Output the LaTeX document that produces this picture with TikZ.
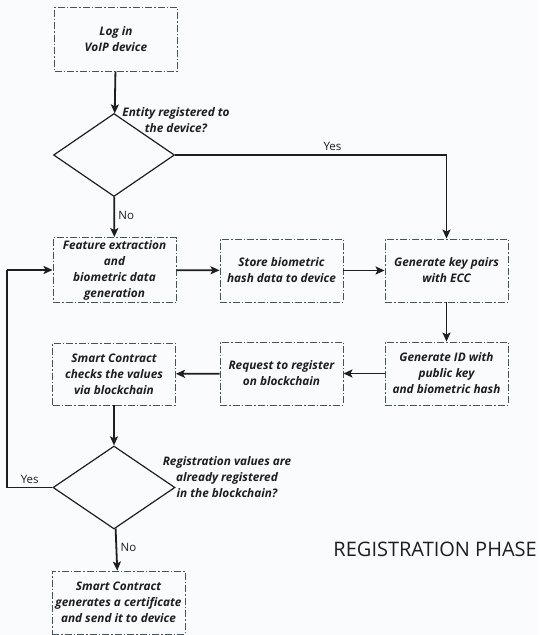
\documentclass[tikz,border=0pt]{standalone}
\usepackage{fontspec}
\setmainfont{Open Sans}
\newfontfamily\labelfont{Open Sans}
\usetikzlibrary{arrows.meta,shapes.geometric,calc}
\definecolor{boxline}{RGB}{70,84,90}
\definecolor{ink}{RGB}{30,30,32}
\definecolor{bg}{RGB}{250,251,253}
\begin{document}
\begin{tikzpicture}[x=1pt,y=-1pt,
  stepbox/.style={draw=boxline,line width=0.9pt,dash pattern=on 7pt off 2pt on 1.5pt off 2pt,
    minimum width=123pt,minimum height=63pt,inner sep=0pt,align=center,
    font=\fontsize{11.8}{16}\selectfont\bfseries\itshape,text=ink},
  decision/.style={draw=ink,line width=1.2pt,diamond,minimum width=121pt,minimum height=83pt,inner sep=0pt},
  conn/.style={draw=ink,line width=1.8pt,-{Stealth[length=9pt,width=8pt,inset=2pt]}},
  plainconn/.style={draw=ink,line width=1.8pt},
  qlabel/.style={align=center,font=\fontsize{11.8}{16}\selectfont\bfseries\itshape,text=ink},
  ynlabel/.style={font=\labelfont\fontsize{11.5}{13}\selectfont,text=ink}]
\fill[bg] (0,0) rectangle (539,635);
\useasboundingbox (0,0) rectangle (539,635);

\node[stepbox,minimum height=64pt] (login) at (116,39) {Log in\\VoIP device};
\node[decision] (d1) at (114,155) {};
\node[qlabel] (q1) at (176,120) {Entity registered to\\the device?};

\node[stepbox,minimum height=65pt] (feat) at (114.5,270) {Feature extraction\\and\\biometric data\\generation};
\node[stepbox] (store) at (281.5,270.5) {Store biometric\\hash data to device};
\node[stepbox] (keys) at (446.5,270.5) {Generate key pairs\\with ECC};
\node[stepbox] (genid) at (446.5,373.5) {Generate ID with\\public key\\and biometric hash};
\node[stepbox] (req) at (281.5,373.5) {Request to register\\on blockchain};
\node[stepbox,minimum height=62pt] (check) at (114,374) {Smart Contract\\checks the values\\via blockchain};

\node[decision,minimum width=122pt,minimum height=83pt] (d2) at (114,487.5) {};
\node[qlabel] (q2) at (227,477) {Registration values are\\already registered\\in the blockchain?};

\node[stepbox,minimum width=133pt] (final) at (118.5,602.5) {Smart Contract\\generates a certificate\\and send it to device};

\node[font=\labelfont\fontsize{20}{23}\selectfont,text=ink,anchor=east,inner sep=0pt] (title) at (537,549) {REGISTRATION PHASE};

\coordinate (yes1) at (446.5,155);
\coordinate (yes2a) at (7,487.5);
\coordinate (yes2b) at (7,270);

\draw[conn] (login) -- (d1);
\draw[conn] (d1) -- node[ynlabel,right,pos=0.45] (no1) {No} (feat);
\draw[plainconn] (d1.east) -- node[ynlabel,above,pos=0.58] (yes1lab) {Yes} (yes1);
\draw[conn] (yes1) -- (keys.north);
\draw[conn] (feat) -- (store);
\draw[conn] (store) -- (keys);
\draw[conn] (keys) -- (genid);
\draw[conn] (genid) -- (req);
\draw[conn] (req) -- (check);
\draw[conn] (check) -- (d2);
\draw[conn] (d2) -- node[ynlabel,right,pos=0.45] (no2) {No} (final);
\draw[plainconn] (d2.west) -- node[ynlabel,above,pos=0.5] (yes2lab) {Yes} (yes2a) -- (yes2b);
\draw[conn] (yes2b) -- (feat.west);
\end{tikzpicture}
\end{document}
